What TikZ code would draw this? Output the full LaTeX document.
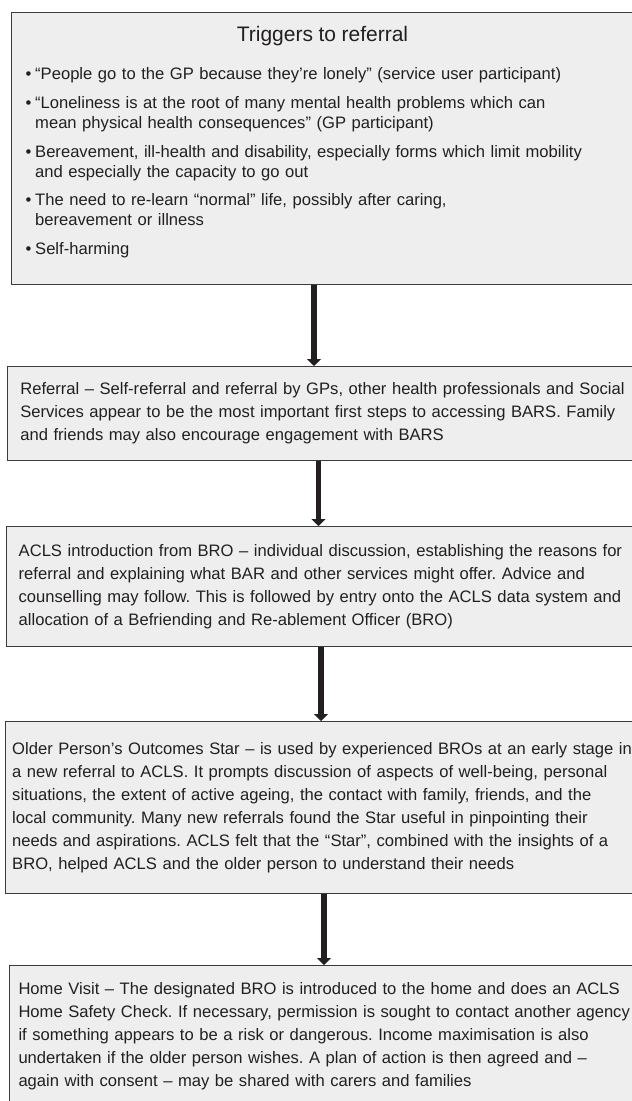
\documentclass[tikz,border=0pt]{standalone}
\usepackage{fontspec}
\setmainfont{Liberation Sans}
\usetikzlibrary{arrows.meta}

\definecolor{boxfill}{HTML}{EEEEEE}
\definecolor{boxline}{HTML}{3C3C3C}
\definecolor{ink}{HTML}{231F20}

\frenchspacing
\newcommand{\trigitem}[1]{\par\hangindent=9.5pt\hangafter=1\noindent\makebox[9.5pt][l]{\textbullet}#1}

\begin{document}
\begin{tikzpicture}[x=1pt,y=-1pt]
\tikzstyle{stage}=[draw=boxline, fill=boxfill, line width=1pt, anchor=north west, align=left, text=ink, font=\fontsize{16.6}{23}\selectfont, text width=650pt, inner ysep=0pt]
\tikzstyle{flow}=[draw=ink, line width=5.5pt, -{Triangle[width=14pt,length=7pt]}]
\useasboundingbox (0,0) rectangle (632,1101);
\clip (0,0) rectangle (632,1101);
\fill[white] (0,0) rectangle (632,1101);

\node[stage, text width=593.6pt, inner xsep=14.5pt, inner ysep=13.6pt, font=\fontsize{16.6}{20}\selectfont] (trig) at (10.7,12) {%
  {\centering\noindent\fontsize{21}{24}\selectfont Triggers to referral\par}
  \setlength{\parskip}{8.7pt}\vspace{9.6pt}
  \trigitem{“People go to the GP because they’re lonely” (service user participant)}
  \trigitem{“Loneliness is at the root of many mental health problems which can\hfil\break mean physical health consequences” (GP participant)}
  \trigitem{Bereavement, ill-health and disability, especially forms which limit mobility\hfil\break and especially the capacity to go out}
  \trigitem{The need to re-learn “normal” life, possibly after caring,\hfil\break bereavement or illness}
  \trigitem{Self-harming}\par
  \vspace{12.7pt}};
\node[stage, inner xsep=12.5pt, minimum height=94pt] (refl) at (7.3,366) {Referral – Self-referral and referral by GPs, other health professionals and Social\\Services appear to be the most important first steps to accessing BARS. Family\\and friends may also encourage engagement with BARS};
\node[stage, inner xsep=12.2pt, minimum height=120pt] (intro) at (6,526) {ACLS introduction from BRO – individual discussion, establishing the reasons for\\referral and explaining what BAR and other services might offer. Advice and\\counselling may follow. This is followed by entry onto the ACLS data system and\\allocation of a Befriending and Re-ablement Officer (BRO)};
\node[stage, inner xsep=7pt, minimum height=172pt] (star) at (4.7,721) {Older Person’s Outcomes Star – is used by experienced BROs at an early stage in\\a new referral to ACLS. It prompts discussion of aspects of well-being, personal\\situations, the extent of active ageing, the contact with family, friends, and the\\local community. Many new referrals found the Star useful in pinpointing their\\needs and aspirations. ACLS felt that the “Star”, combined with the insights of a\\BRO, helped ACLS and the older person to understand their needs};
\node[stage, inner xsep=9pt, minimum height=142pt] (visit) at (9,965) {Home Visit – The designated BRO is introduced to the home and does an ACLS\\Home Safety Check. If necessary, permission is sought to contact another agency\\if something appears to be a risk or dangerous. Income maximisation is also\\undertaken if the older person wishes. A plan of action is then agreed and –\\again with consent – may be shared with carers and families};

\draw[flow] (314,0 |- trig.south) -- (314,0 |- refl.north);
\draw[flow] (318.5,0 |- refl.south) -- (318.5,0 |- intro.north);
\draw[flow] (321,0 |- intro.south) -- (321,0 |- star.north);
\draw[flow] (324,0 |- star.south) -- (324,0 |- visit.north);
\end{tikzpicture}
\end{document}
